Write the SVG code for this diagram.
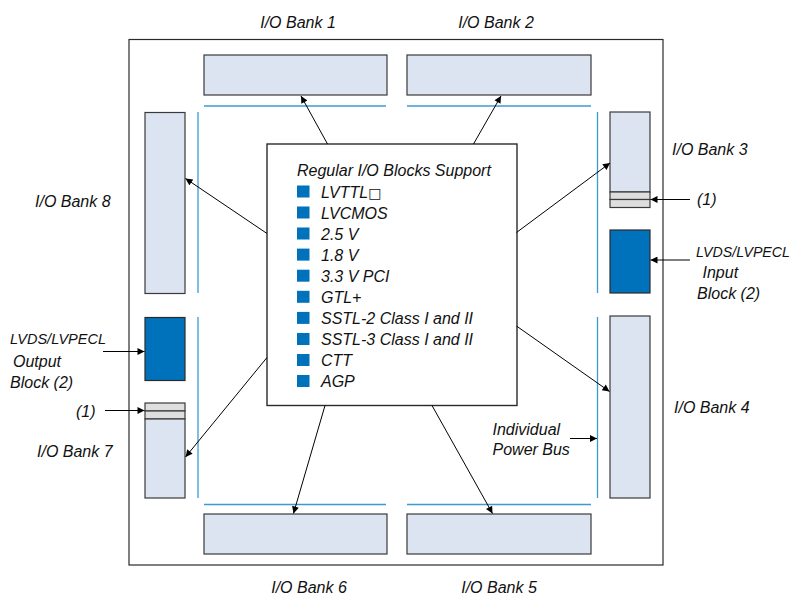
<svg xmlns="http://www.w3.org/2000/svg" width="796" height="596" viewBox="0 0 796 596">
<defs>
<marker id="ah" viewBox="0 0 10 10" refX="10" refY="5" markerWidth="9" markerHeight="7" markerUnits="userSpaceOnUse" orient="auto">
<path d="M0,0 L10,5 L0,10 z" fill="#000"/>
</marker>
</defs>
<style>
text{font-family:"Liberation Sans",Arial,sans-serif;font-style:italic;font-size:16px;fill:#111}
.bank{fill:#DCE3F1;stroke:#3a3a3a;stroke-width:1.2}
.lvds{fill:#0072BC;stroke:#2a2a2a;stroke-width:1.2}
.band{fill:#DEDEDE;stroke:#3a3a3a;stroke-width:1.2}
.bus{stroke:#3B9AD2;stroke-width:1.3;fill:none}
.frame{fill:#fff;stroke:#2a2a2a;stroke-width:1.2}
.conn{stroke:#000;stroke-width:1;fill:none;marker-end:url(#ah)}
.sq{fill:#0072BC}
</style>
<rect width="796" height="596" fill="#fff"/>
<g id="device"><rect class="frame" x="129" y="39.5" width="534" height="525.5"/></g>
<g id="buses">
<line class="bus" x1="204" y1="106" x2="386" y2="106"/>
<line class="bus" x1="407" y1="106" x2="591" y2="106"/>
<line class="bus" x1="204" y1="504.5" x2="386" y2="504.5"/>
<line class="bus" x1="407" y1="504.5" x2="591" y2="504.5"/>
<line class="bus" x1="198" y1="112" x2="198" y2="293"/>
<line class="bus" x1="198" y1="317" x2="198" y2="498"/>
<line class="bus" x1="597.5" y1="112" x2="597.5" y2="293"/>
<line class="bus" x1="597.5" y1="317" x2="597.5" y2="498"/>
</g>
<g id="bank1"><rect class="bank" x="204" y="55" width="183" height="40"/><text x="298" y="28" text-anchor="middle">I/O Bank 1</text></g>
<g id="bank2"><rect class="bank" x="407" y="55" width="184" height="40"/><text x="496" y="28" text-anchor="middle">I/O Bank 2</text></g>
<g id="bank3"><rect class="bank" x="610" y="112" width="40" height="80"/><rect class="band" x="610" y="192" width="40" height="7.5"/><rect class="band" x="610" y="199.5" width="40" height="8"/><text x="672" y="155">I/O Bank 3</text></g>
<g id="lvds-in"><rect class="lvds" x="610" y="230" width="40" height="63"/><text x="696" y="257" style="font-size:15px" textLength="94" lengthAdjust="spacingAndGlyphs">LVDS/LVPECL</text><text x="702.5" y="278">Input</text><text x="697" y="298.5">Block (2)</text></g>
<g id="note1-right"><text x="697" y="204.5">(1)</text></g>
<g id="bank4"><rect class="bank" x="610" y="316" width="40" height="182"/><text x="674" y="412.5">I/O Bank 4</text></g>
<g id="bank5"><rect class="bank" x="407" y="514" width="184" height="40"/><text x="499" y="593" text-anchor="middle">I/O Bank 5</text></g>
<g id="bank6"><rect class="bank" x="204" y="514" width="183" height="40"/><text x="309" y="593" text-anchor="middle">I/O Bank 6</text></g>
<g id="bank7"><rect class="band" x="145" y="403" width="40" height="8"/><rect class="band" x="145" y="411" width="40" height="8"/><rect class="bank" x="145" y="419" width="40" height="79"/><text x="37" y="456.5">I/O Bank 7</text></g>
<g id="lvds-out"><rect class="lvds" x="145" y="317.5" width="40" height="63"/><text x="10" y="343.5" style="font-size:15px" textLength="96" lengthAdjust="spacingAndGlyphs">LVDS/LVPECL</text><text x="13" y="366.5">Output</text><text x="10" y="387.5">Block (2)</text></g>
<g id="note1-left"><text x="76" y="416.5">(1)</text></g>
<g id="bank8"><rect class="bank" x="145" y="112.5" width="40" height="181"/><text x="35" y="206.5">I/O Bank 8</text></g>
<g id="power-bus-label"><text x="492.5" y="435">Individual</text><text x="492.5" y="455">Power Bus</text></g>
<g id="regular-io">
<rect class="frame" x="267" y="144" width="250" height="261.5" style="stroke-width:1.4"/>
<text x="297" y="175.5">Regular I/O Blocks Support</text>
<rect class="sq" x="297" y="185.5" width="12.5" height="12"/><text x="321" y="197.5">LVTTL<tspan font-family="DejaVu Sans" font-style="normal" font-size="14">□</tspan></text>
<rect class="sq" x="297" y="206.5" width="12.5" height="12"/><text x="321" y="218.5">LVCMOS</text>
<rect class="sq" x="297" y="227.5" width="12.5" height="12"/><text x="321" y="239.5">2.5 V</text>
<rect class="sq" x="297" y="248.6" width="12.5" height="12"/><text x="321" y="260.6">1.8 V</text>
<rect class="sq" x="297" y="269.7" width="12.5" height="12"/><text x="321" y="281.7">3.3 V PCI</text>
<rect class="sq" x="297" y="290.8" width="12.5" height="12"/><text x="321" y="302.8">GTL+</text>
<rect class="sq" x="297" y="311.9" width="12.5" height="12"/><text x="321" y="323.9">SSTL-2 Class I and II</text>
<rect class="sq" x="297" y="333" width="12.5" height="12"/><text x="321" y="345">SSTL-3 Class I and II</text>
<rect class="sq" x="297" y="354" width="12.5" height="12"/><text x="321" y="366">CTT</text>
<rect class="sq" x="297" y="375" width="12.5" height="12"/><text x="321" y="387">AGP</text>
</g>
<g id="connectors">
<line class="conn" x1="327.5" y1="144" x2="301" y2="96"/>
<line class="conn" x1="473.5" y1="144" x2="501" y2="96"/>
<line class="conn" x1="267" y1="233.5" x2="185.5" y2="178.5"/>
<line class="conn" x1="516.5" y1="232.5" x2="610" y2="163"/>
<line class="conn" x1="516.5" y1="326" x2="609.5" y2="391.5"/>
<line class="conn" x1="267" y1="357.5" x2="185.5" y2="457"/>
<line class="conn" x1="325" y1="405.5" x2="293.5" y2="513.5"/>
<line class="conn" x1="432" y1="405.5" x2="492.5" y2="513.5"/>
<line class="conn" x1="690" y1="199.5" x2="650.5" y2="199.5"/>
<line class="conn" x1="690" y1="260" x2="650.5" y2="260"/>
<line class="conn" x1="103" y1="351.5" x2="144.5" y2="351.5"/>
<line class="conn" x1="105" y1="410.5" x2="144.5" y2="410.5"/>
<line class="conn" x1="570" y1="438.5" x2="597" y2="438.5"/>
</g>
</svg>
